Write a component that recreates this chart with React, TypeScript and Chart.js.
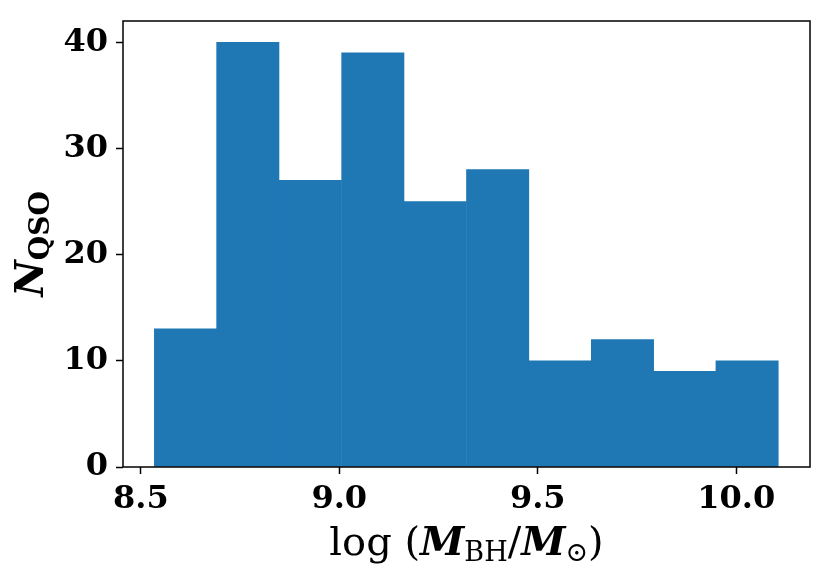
import React, { useEffect, useRef } from "react";
import { Chart, registerables } from "chart.js";

Chart.register(...registerables);

// histogram bin edges and counts
const binEdges = [8.534, 8.691, 8.848, 9.006, 9.163, 9.32, 9.478, 9.635, 9.792, 9.949, 10.106];
const counts = [13, 40, 27, 39, 25, 28, 10, 12, 9, 10];
const xTicks = [8.5, 9.0, 9.5, 10.0];
const yTicks = [0, 10, 20, 30, 40];
const xLimits = [8.455, 10.186];
const yLimits = [0, 42];

const SERIF = '"DejaVu Serif", serif';

type Part = { text: string; font: string; dy?: number };

// draws text runs with different fonts, centred on x
const drawRich = (ctx: CanvasRenderingContext2D, parts: Part[], x: number, y: number) => {
  let total = 0;
  parts.forEach((p) => {
    ctx.font = p.font;
    total += ctx.measureText(p.text).width;
  });
  let cx = x - total / 2;
  ctx.textAlign = "left";
  ctx.textBaseline = "alphabetic";
  parts.forEach((p) => {
    ctx.font = p.font;
    ctx.fillText(p.text, cx, y + (p.dy || 0));
    cx += ctx.measureText(p.text).width;
  });
};

const labelsPlugin = {
  id: "labels",
  afterDraw(chart: Chart) {
    const { ctx, chartArea } = chart;
    ctx.save();
    ctx.strokeStyle = "#000";
    ctx.lineWidth = 1.5;
    ctx.strokeRect(chartArea.left, chartArea.top, chartArea.right - chartArea.left, chartArea.bottom - chartArea.top);

    ctx.fillStyle = "#000";
    const xMid = (chartArea.left + chartArea.right) / 2;
    drawRich(
      ctx,
      [
        { text: "log (", font: `40px ${SERIF}` },
        { text: "M", font: `italic bold 40px ${SERIF}` },
        { text: "BH", font: `27px ${SERIF}`, dy: 6 },
        { text: "/", font: `40px ${SERIF}` },
        { text: "M", font: `italic bold 40px ${SERIF}` },
        { text: "\u2299", font: `27px ${SERIF}`, dy: 6 },
        { text: ")", font: `40px ${SERIF}` },
      ],
      xMid,
      555
    );

    ctx.translate(43, (chartArea.top + chartArea.bottom) / 2);
    ctx.rotate(-Math.PI / 2);
    drawRich(
      ctx,
      [
        { text: "N", font: `italic bold 40px ${SERIF}` },
        { text: "QSO", font: `bold 28px ${SERIF}`, dy: 6 },
      ],
      0,
      0
    );
    ctx.restore();
  },
};

const App: React.FC = () => {
  const canvasRef = useRef<HTMLCanvasElement | null>(null);

  useEffect(() => {
    if (!canvasRef.current) return;
    const tickFont = { family: SERIF, size: 32, weight: "bold" as const };
    const chart = new Chart(canvasRef.current, {
      type: "bar",
      data: {
        datasets: [
          {
            data: counts.map((c, i) => ({ x: (binEdges[i] + binEdges[i + 1]) / 2, y: c })),
            backgroundColor: "#1f77b4",
            borderWidth: 0,
            barPercentage: 1,
            categoryPercentage: 1,
          },
        ],
      },
      options: {
        responsive: false,
        animation: false,
        events: [],
        layout: { padding: { top: 21, right: 21, left: 0, bottom: 0 } },
        plugins: { legend: { display: false }, tooltip: { enabled: false } },
        scales: {
          x: {
            type: "linear",
            min: xLimits[0],
            max: xLimits[1],
            offset: false,
            border: { display: false },
            grid: { display: true, offset: false, drawOnChartArea: false, drawTicks: true, tickLength: 7, tickColor: "#000", tickWidth: 1.5 },
            ticks: { color: "#000", font: tickFont, padding: 6, maxRotation: 0, callback: (v) => Number(v).toFixed(1) },
            afterBuildTicks: (scale) => {
              scale.ticks = xTicks.map((v) => ({ value: v }));
            },
            afterFit: (scale: any) => {
              scale.height = 115;
              scale.paddingLeft = 0;
              scale.paddingRight = 0;
            },
          },
          y: {
            min: yLimits[0],
            max: yLimits[1],
            border: { display: false },
            grid: { display: true, drawOnChartArea: false, drawTicks: true, tickLength: 7, tickColor: "#000", tickWidth: 1.5 },
            ticks: { color: "#000", font: tickFont, padding: 8 },
            afterBuildTicks: (scale) => {
              scale.ticks = yTicks.map((v) => ({ value: v }));
            },
            afterFit: (scale: any) => {
              scale.width = 123;
              scale.paddingTop = 0;
              scale.paddingBottom = 0;
            },
          },
        },
      },
      plugins: [labelsPlugin],
    });
    return () => chart.destroy();
  }, []);

  return (
    <div style={{ position: "fixed", left: 0, top: 0, width: 831, height: 582, background: "#fff" }}>
      <canvas ref={canvasRef} width={831} height={582} style={{ width: 831, height: 582 }}></canvas>
    </div>
  );
};

export default App;
